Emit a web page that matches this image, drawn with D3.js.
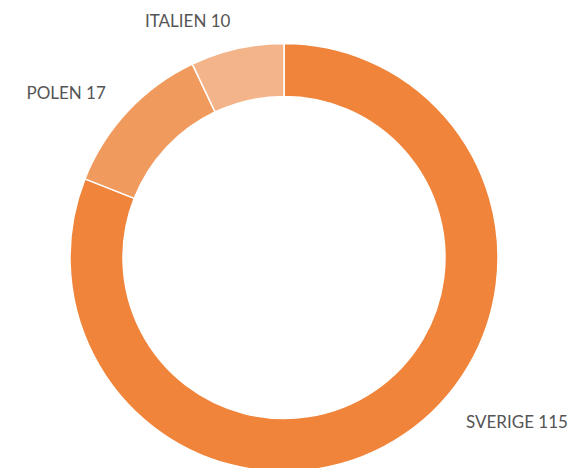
<!DOCTYPE html>
<html><head><meta charset="utf-8">
<script src="https://cdn.jsdelivr.net/npm/d3@7"></script>
<style>html,body{margin:0;padding:0;background:#fff;}svg{display:block;}</style>
</head><body>
<svg id="chart" width="572" height="468"></svg>
<script>
const categories = ["SVERIGE", "POLEN", "ITALIEN"];
const values = [115, 17, 10];
const colors = ["#F0843A", "#F09A5E", "#F4B48A"];

const W = 572, H = 468, cx = 284, cy = 257.5, rOuter = 214, rInner = 161, rLabel = 244;
const svg = d3.select("#chart");
const g = svg.append("g").attr("transform", `translate(${cx},${cy})`);
const data = categories.map((c, i) => ({ name: c, value: values[i], color: colors[i] }));
const pie = d3.pie().value(d => d.value).sort(null);
const arc = d3.arc().innerRadius(rInner).outerRadius(rOuter);
const arcs = pie(data);

g.selectAll("path").data(arcs).join("path")
  .attr("d", arc)
  .attr("fill", d => d.data.color)
  .attr("stroke", "#fff")
  .attr("stroke-width", 1.5);

const maxY = H - 48 - cy;
g.selectAll("text").data(arcs).join("text")
  .each(function(d) {
    const a = (d.startAngle + d.endAngle) / 2;
    let x = rLabel * Math.sin(a), y = -rLabel * Math.cos(a);
    if (y > maxY) { y = maxY; x = Math.sign(x) * Math.sqrt(rLabel * rLabel - y * y); }
    d3.select(this).attr("x", x).attr("y", y)
      .attr("text-anchor", x >= 0 ? "start" : "end");
  })
  .attr("dominant-baseline", "middle")
  .attr("dy", "0.2em")
  .attr("font-family", "Lato, 'Open Sans', sans-serif")
  .attr("font-size", 17)
  .attr("fill", "#555")
  .text(d => `${d.data.name} ${d.data.value}`);
</script>
</body></html>
